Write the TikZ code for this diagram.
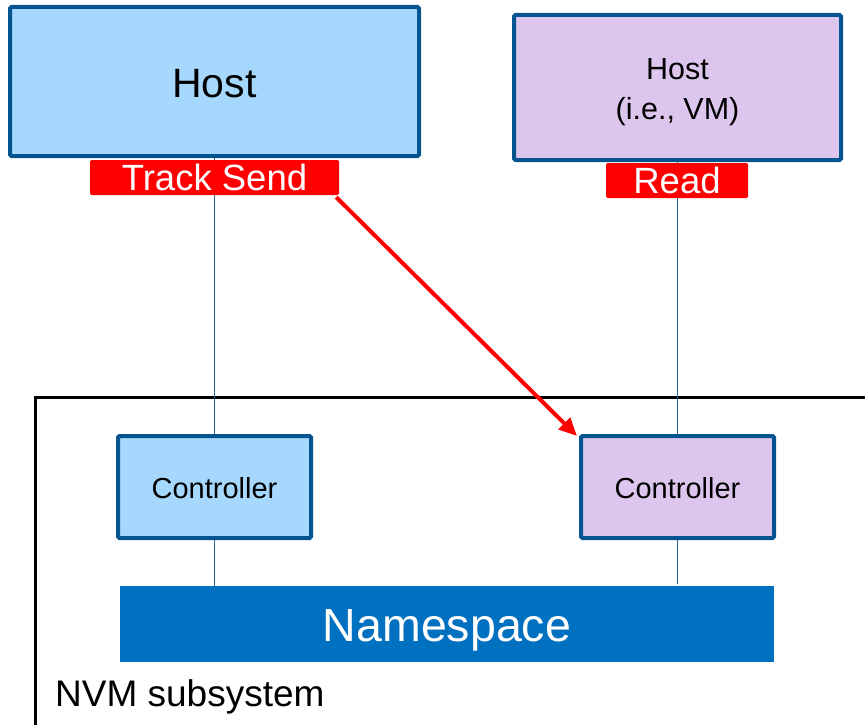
\documentclass[tikz,border=0pt]{standalone}
\usepackage{fontspec}
\setmainfont{Liberation Sans}
\usetikzlibrary{arrows.meta}
\definecolor{hostblue}{RGB}{166,216,253}
\definecolor{hostpurple}{RGB}{221,198,238}
\definecolor{edgeblue}{RGB}{4,85,143}
\definecolor{nsblue}{RGB}{0,112,192}
\definecolor{linkblue}{RGB}{40,100,150}
\tikzset{
  box/.style={draw=edgeblue, line width=4pt, rounded corners=1.5pt, inner sep=0pt},
  txt/.style={inner sep=0pt, text depth=0pt},
  tag/.style={fill=red, rounded corners=1.5pt, inner sep=0pt, text=white, text height=26.1pt, text depth=0pt, minimum height=35pt, font=\fontsize{36.5}{40}\selectfont},
  link/.style={draw=linkblue, line width=1.3pt},
}
\begin{document}
\begin{tikzpicture}[x=1pt,y=-1pt]
\useasboundingbox (0,0) rectangle (865,725);
\begin{scope}
\clip (0,0) rectangle (865,725);
\draw[black, line width=3pt] (35,397.5) rectangle (900,726);
\end{scope}
\node[box, fill=hostblue, minimum width=409pt, minimum height=149pt] (h1) at (214.5,81.5) {};
\node[txt, text height=29.4pt, font=\fontsize{41}{45}\selectfont] (h1t) at (214.5,82.5) {Host};
\node[box, fill=hostpurple, minimum width=327pt, minimum height=145pt] (h2) at (677.5,87.5) {};
\node[txt, text height=21.8pt, font=\fontsize{30.5}{34}\selectfont] (h2a) at (677.5,68.5) {Host};
\node[txt, text height=21.8pt, font=\fontsize{30.5}{34}\selectfont] (h2b) at (677.5,109) {(i.e., VM)};
\node[box, fill=hostblue, minimum width=193pt, minimum height=102pt] (c1) at (214.5,487) {};
\node[txt, text height=20.8pt, font=\fontsize{29}{32}\selectfont] (c1t) at (214.5,488.5) {Controller};
\node[box, fill=hostpurple, minimum width=193pt, minimum height=102pt] (c2) at (677.5,487) {};
\node[txt, text height=20.8pt, font=\fontsize{29}{32}\selectfont] (c2t) at (677.5,488.5) {Controller};
\node[fill=nsblue, minimum width=654pt, minimum height=76pt, inner sep=0pt] (ns) at (447,624) {};
\node[txt, text=white, text height=33.3pt, font=\fontsize{46.5}{50}\selectfont] (nst) at (447,625) {Namespace};
\node[anchor=base west, font=\fontsize{37}{40}\selectfont, inner sep=0pt] (nvm) at (55,706) {NVM subsystem};
\draw[link] (h1.south) -- (c1.north);
\draw[link] (h2.south) -- (c2.north);
\draw[link] (c1.south) -- (c1.south |- ns.north);
\draw[link] (c2.south) -- ([yshift=2pt]c2.south |- ns.north);
\node[tag, minimum width=249pt] (ts) at (214.5,177.5) {Track Send};
\node[tag, minimum width=142pt] (rd) at (677,180.5) {Read};
\draw[red, line width=4pt, -{Triangle[length=18pt,width=16pt]}] ([xshift=-3pt,yshift=-2pt]ts.south east) -- ([xshift=-2pt,yshift=-2pt]c2.north west);
\end{tikzpicture}
\end{document}
